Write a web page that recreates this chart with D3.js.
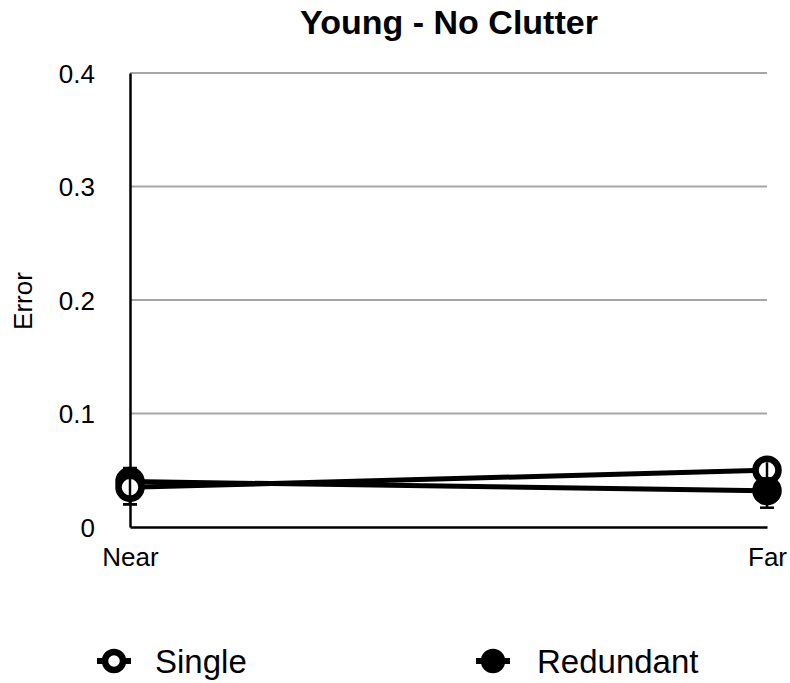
<!DOCTYPE html>
<html>
<head>
<meta charset="utf-8">
<script src="https://cdn.jsdelivr.net/npm/d3@7"></script>
<style>
body{margin:0;background:#fff;}
text{font-family:Helvetica,Arial,"Liberation Sans",sans-serif;fill:#000;}
</style>
</head>
<body>
<div id="ChartPart"></div>
<script>
//Data of the chart---------------------------------------------------------
var Categories = ["Near","Far"];
var SeriesNames = ["Single","Redundant"];
var SingleValues = [0.035,0.050];
var RedundantValues = [0.040,0.032];
var SingleErrors = [0.015,0.007];
var RedundantErrors = [0.012,0.015];
var TickValues = [0,0.1,0.2,0.3,0.4];

var ChartWidth = 790;
var ChartHeight = 683;
var Left = 130, Right = 767, Top = 73, Bottom = 527;

var Svg = d3.select("#ChartPart").append("svg")
	.attr("width",ChartWidth)
	.attr("height",ChartHeight);

var XScale = d3.scalePoint().domain(Categories).range([Left,Right]);
var YScale = d3.scaleLinear().domain([0,0.4]).range([Bottom,Top]);

//Gridlines
Svg.append("g").selectAll("line")
	.data(TickValues.filter(function(d){return d>0;}))
	.enter().append("line")
	.attr("x1",Left).attr("x2",Right)
	.attr("y1",function(d){return YScale(d);})
	.attr("y2",function(d){return YScale(d);})
	.style("stroke","#a6a6a6").style("stroke-width",2);

//Y axis
var YAxis = Svg.append("g")
	.attr("transform","translate("+Left+",0)")
	.call(d3.axisLeft(YScale).tickValues(TickValues).tickSize(0).tickPadding(35)
		.tickFormat(function(d){return d===0?"0":d3.format(".1f")(d);}));
YAxis.select(".domain").style("stroke","#000").style("stroke-width",2.5);
YAxis.selectAll("text").style("font-size","26px").attr("dy","0.36em");

//X axis
var XAxis = Svg.append("g")
	.attr("transform","translate(0,"+Bottom+")")
	.call(d3.axisBottom(XScale).tickSize(0).tickPadding(21));
XAxis.select(".domain").style("stroke","#000").style("stroke-width",2.5);
XAxis.selectAll("text").style("font-size","26px");

//Title
Svg.append("text")
	.attr("x",449).attr("y",34)
	.attr("text-anchor","middle")
	.style("font-size","34px").style("font-weight","bold")
	.text("Young - No Clutter");

//Y label
Svg.append("text")
	.attr("transform","translate(32,301) rotate(-90)")
	.attr("text-anchor","middle")
	.style("font-size","26px")
	.text("Error");

//Series-------------------------------------------------------------------
var Series = [
	{name:SeriesNames[0],values:SingleValues,errors:SingleErrors,fill:"#fff"},
	{name:SeriesNames[1],values:RedundantValues,errors:RedundantErrors,fill:"#000"}
];

var LineMaker = d3.line()
	.x(function(d,i){return XScale(Categories[i]);})
	.y(function(d){return YScale(d);});

Series.forEach(function(s){
	Svg.append("path")
		.datum(s.values)
		.attr("d",LineMaker)
		.style("fill","none").style("stroke","#000").style("stroke-width",5);
});

// draw markers: redundant first, then single on top
[Series[1],Series[0]].forEach(function(s){
	var G = Svg.append("g");
	s.values.forEach(function(v,i){
		var x = XScale(Categories[i]);
		var e = s.errors[i];
		G.append("line")
			.attr("x1",x).attr("x2",x)
			.attr("y1",YScale(v-e)).attr("y2",YScale(v+e))
			.style("stroke","#000").style("stroke-width",2.5);
		[v-e,v+e].forEach(function(c){
			G.append("line")
				.attr("x1",x-7).attr("x2",x+7)
				.attr("y1",YScale(c)).attr("y2",YScale(c))
				.style("stroke","#000").style("stroke-width",2.5);
		});
		G.append("circle")
			.attr("cx",x).attr("cy",YScale(v)).attr("r",11.5)
			.style("fill",s.fill).style("stroke","#000").style("stroke-width",6.5);
		if(s.fill==="#fff"){
			// error bar seen through the open marker
			G.append("line")
				.attr("x1",x).attr("x2",x)
				.attr("y1",YScale(v-e)).attr("y2",YScale(v+e))
				.style("stroke","#000").style("stroke-width",2.5);
			G.append("line")
				.attr("x1",x-7).attr("x2",x+7)
				.attr("y1",YScale(v-e)).attr("y2",YScale(v-e))
				.style("stroke","#000").style("stroke-width",2.5);
		}
	});
});

//Legend
var LegendX = [114,493];
var LegendTextX = [155,537];
Series.forEach(function(s,i){
	var G = Svg.append("g").attr("transform","translate("+LegendX[i]+",661)");
	G.append("line").attr("x1",-17).attr("x2",17)
		.style("stroke","#000").style("stroke-width",6);
	G.append("circle").attr("r",9)
		.style("fill",s.fill).style("stroke","#000").style("stroke-width",6.5);
	Svg.append("text").attr("x",LegendTextX[i]).attr("y",661).attr("dy","0.36em")
		.style("font-size","33px")
		.text(s.name);
});
</script>
</body>
</html>
